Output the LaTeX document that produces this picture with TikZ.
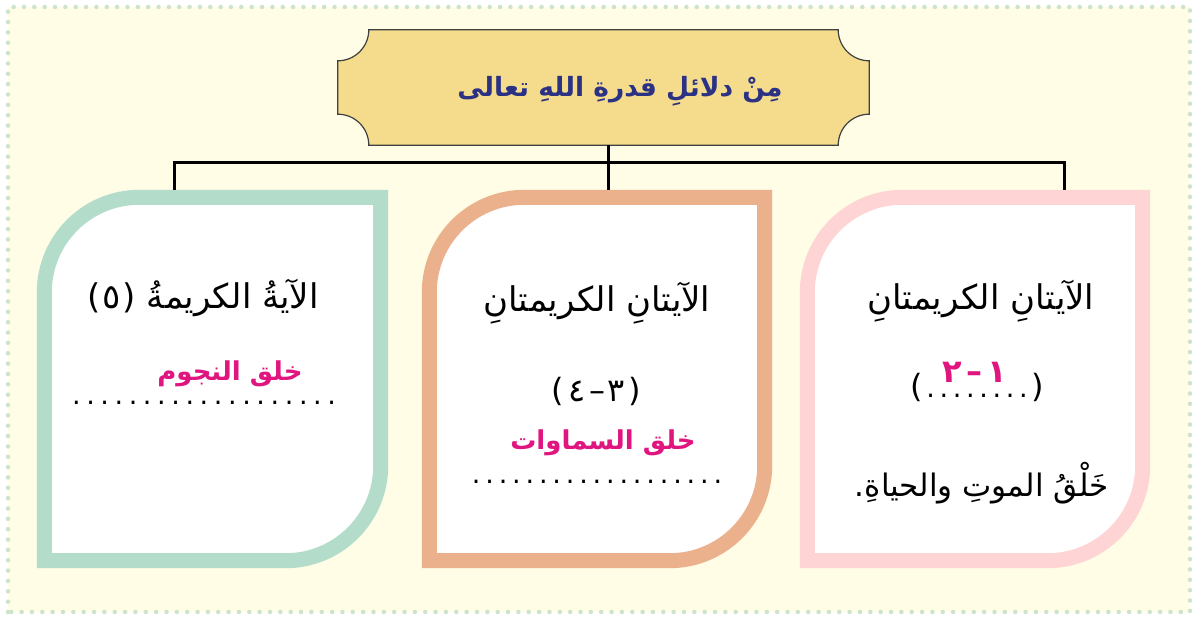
\documentclass[tikz,border=0pt]{standalone}
\usepackage{fontspec}
\TeXXeTstate=1
\newfontfamily\arabicfont[Script=Arabic]{DejaVu Sans}
\newfontfamily\plainfont{DejaVu Sans}
\definecolor{cream}{HTML}{FFFDE5}
\definecolor{dotgreen}{HTML}{CDE4CB}
\definecolor{titlefill}{HTML}{F4DC8C}
\definecolor{navy}{HTML}{2B3284}
\definecolor{cgreen}{HTML}{B3DCCB}
\definecolor{corange}{HTML}{EBB18D}
\definecolor{cpink}{HTML}{FFD4D4}
\definecolor{magenta}{HTML}{E0157F}
\newcommand\dotrow[2]{\hbox to #1{\xleaders\hbox to #2{\hss.\hss}\hfill}}
\newcommand\cardframe[2]{%
  \draw[cardline, draw=#2] ([shift={(7.5pt,7.5pt)}]#1.south west)
    -- ([shift={(7.5pt,-102.5pt)}]#1.north west)
    arc[start angle=180,end angle=90,radius=95pt]
    -- ([shift={(-7.5pt,-7.5pt)}]#1.north east)
    -- ([shift={(-7.5pt,102.5pt)}]#1.south east)
    arc[start angle=0,end angle=-90,radius=95pt]
    -- cycle;}
\newcommand\titleshape{([xshift=31pt]tbox.north west) -- ([xshift=-31pt]tbox.north east)
  arc[start angle=180,end angle=270,radius=31pt] -- ([yshift=31pt]tbox.south east)
  arc[start angle=90,end angle=180,radius=31pt] -- ([xshift=31pt]tbox.south west)
  arc[start angle=0,end angle=90,radius=31pt] -- ([yshift=-31pt]tbox.north west)
  arc[start angle=270,end angle=360,radius=31pt] -- cycle}
\begin{document}
\begin{tikzpicture}[x=1pt,y=1pt,
  ar/.style={font=\arabicfont\fontsize{34}{40}\selectfont, inner sep=0pt, text=black},
  arb/.style={font=\arabicfont\fontsize{31}{37}\selectfont, inner sep=0pt, text=black},
  num/.style={font=\plainfont\fontsize{32}{38}\selectfont, inner sep=0pt, text=black},
  pinktext/.style={font=\arabicfont\bfseries\fontsize{26}{31}\selectfont, inner sep=0pt, text=magenta},
  pinknum/.style={font=\plainfont\bfseries\fontsize{32}{36}\selectfont, inner sep=0pt, text=magenta},
  titletext/.style={font=\arabicfont\bfseries\fontsize{26.5}{32}\selectfont, inner sep=0pt, text=navy},
  dots/.style={font=\plainfont\fontsize{27}{32}\selectfont, inner sep=0pt},
  cardbox/.style={draw=none, inner sep=0pt, minimum height=378pt},
  cardline/.style={line width=15pt, fill=white},
  connector/.style={line width=3pt, black},
  frame/.style={line width=4.5pt, line cap=round, dash pattern=on 0pt off 10.35pt, dotgreen}]
\useasboundingbox (0,0) rectangle (1204,619);
\fill[white] (0,0) rectangle (1204,619);
\fill[cream] (8,7) rectangle (1190,612);
\draw[frame] (8,7) rectangle (1190,612);

% title
\node[draw=none, minimum width=531pt, minimum height=115pt, inner sep=0pt] (tbox) at (603.5,531.5) {};
\begin{scope}[shift={(1.2pt,-2pt)}]
\fill[gray!70] \titleshape;
\end{scope}
\draw[fill=titlefill, draw=black!75, line width=1.2pt] \titleshape;
\node[titletext] (title) at (620,528) {\beginR مِنْ دلائلِ قدرةِ اللهِ تعالى\endR};

% cards
\node[cardbox, minimum width=351pt] (c1) at (212.5,240) {};
\node[cardbox, minimum width=350pt] (c2) at (597,240) {};
\node[cardbox, minimum width=350pt] (c3) at (975,240) {};
\cardframe{c1}{cgreen}
\cardframe{c2}{corange}
\cardframe{c3}{cpink}

% connectors
\coordinate (hub) at (608,456);
\coordinate (j1) at (174,456);
\coordinate (j3) at (1064,456);
\draw[connector] (tbox.south -| hub) -- (hub);
\draw[connector] (j1 |- c1.north) -- (j1) -- (j3) -- (j3 |- c3.north);
\draw[connector] (hub) -- (hub |- c2.north);

% card 1
\node[ar] (t1a) at (203,321) {\beginR الآيةُ الكريمةُ \beginL{\plainfont(\kern2pt ٥\kern2pt)}\endL\endR};
\node[pinktext] (t1b) at (230,245) {\beginR خلق النجوم\endR};
\node[dots] (t1c) at (204,216) {\dotrow{270pt}{13.6pt}};

% card 2
\node[ar] (t2a) at (597,316) {\beginR الآيتانِ الكريمتانِ\endR};
\node[num] (t2b) at (596,228) {(\kern5pt ٤\kern4pt–\kern2pt ٣\kern3pt)};
\node[pinktext] (t2c) at (603,176) {\beginR خلق السماوات\endR};
\node[dots] (t2d) at (597,137) {\dotrow{255pt}{13.4pt}};

% card 3
\node[ar] (t3a) at (981,318) {\beginR الآيتانِ الكريمتانِ\endR};
\node[num] (t3b) at (977,232) {(\kern1pt{\fontsize{27}{32}\selectfont\dotrow{106pt}{13.2pt}}\kern1pt)};
\node[pinknum] (t3c) at (975,247) {٢\kern5pt–\kern5pt١};
\node[arb] (t3d) at (982,136) {\beginR خَلْقُ الموتِ والحياةِ\kern0pt.\endR};
\end{tikzpicture}
\end{document}
